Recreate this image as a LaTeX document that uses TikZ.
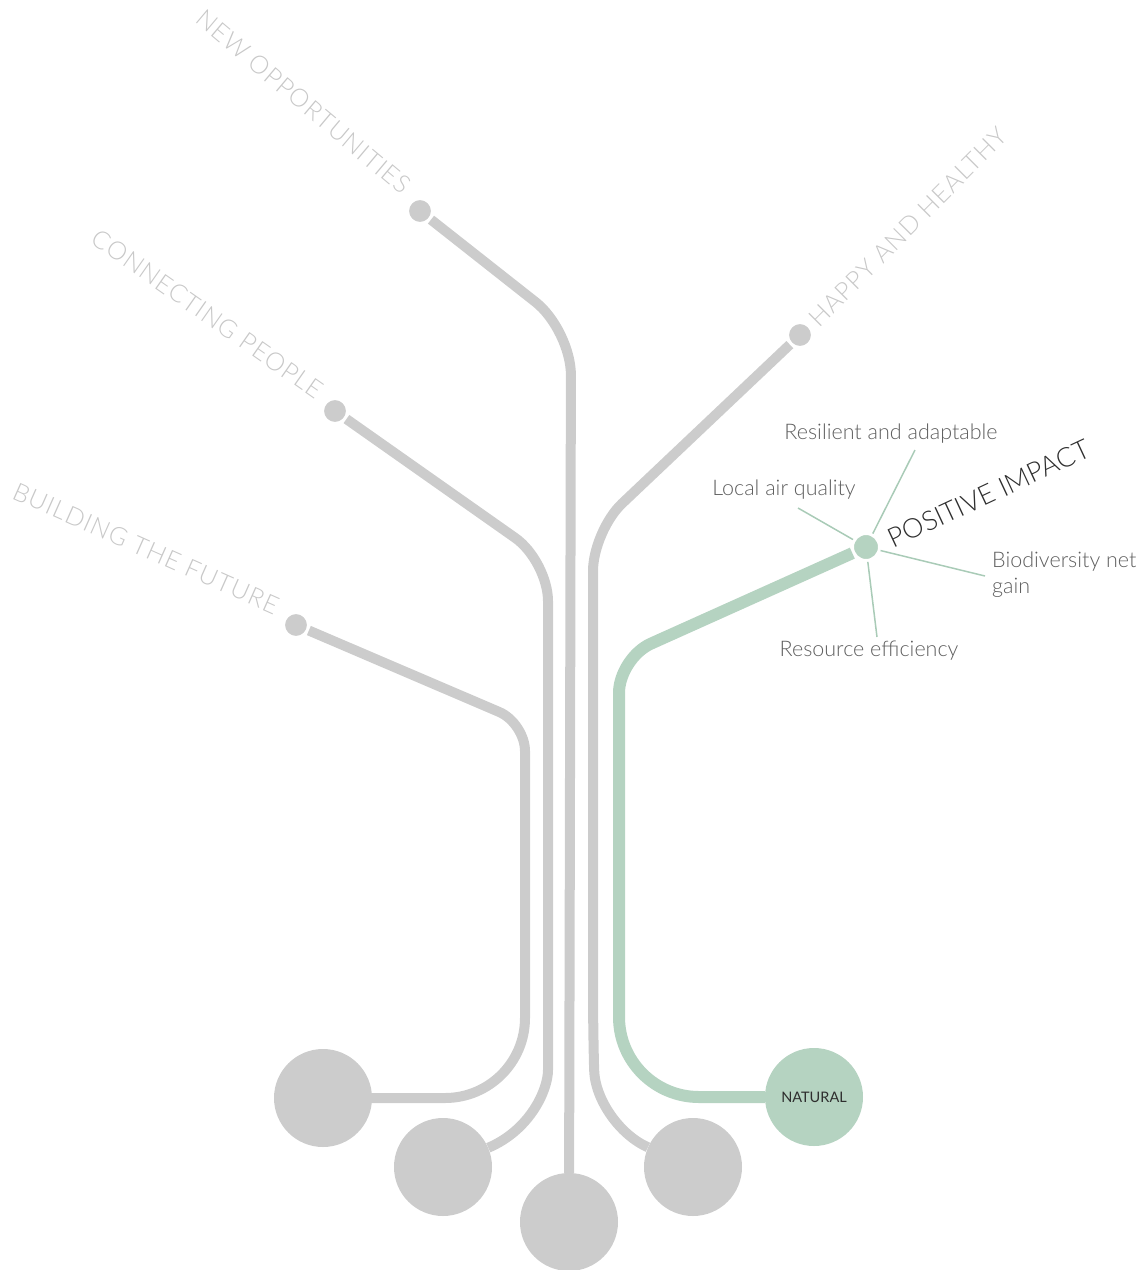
\documentclass[tikz,border=0pt]{standalone}
\usepackage{fontspec}
\setmainfont{Lato}
\newfontfamily\thinfont{Lato Light}
\newfontfamily\tagfont{Lato Light}[LetterSpace=4]
\definecolor{trunkgray}{HTML}{CCCCCC}
\definecolor{leafgreen}{HTML}{B5D3C1}
\definecolor{spokegreen}{HTML}{A9CBB7}
\definecolor{taggray}{HTML}{C8C8C8}
\definecolor{notegray}{HTML}{5E5E5E}
\definecolor{inkgray}{HTML}{2E2E2E}

\begin{document}
\begin{tikzpicture}[x=1pt, y=-1pt, line join=round,
	root/.style={circle, fill=trunkgray, minimum size=98pt, inner sep=0pt},
	tip/.style={circle, fill=trunkgray, draw=white, line width=3pt, minimum size=25pt, inner sep=0pt},
	trunk/.style={draw=trunkgray, line width=10pt},
	leaf/.style={draw=leafgreen, line width=12pt},
	spoke/.style={draw=spokegreen, line width=1.5pt},
	tag/.style={text=taggray, font=\tagfont\fontsize{25}{29}\selectfont, inner xsep=24pt, inner ysep=0pt},
	note/.style={text=notegray, font=\thinfont\fontsize{21.5}{26}\selectfont, inner sep=0pt}]
	\useasboundingbox (0,0) rectangle (1147,1270);
	\node[root] (rBF) at (323,1098) {};
	\node[root] (rCP) at (443,1167) {};
	\node[root] (rNO) at (569,1222) {};
	\node[root] (rHH) at (693,1167) {};
	\node[root, fill=leafgreen, text=inkgray, font=\fontsize{14.5}{16}\selectfont] (rNA) at (814,1097) {NATURAL};
	\node[tip] (tBF) at (296,625) {};
	\node[tip] (tCP) at (335,411) {};
	\node[tip] (tNO) at (420,211) {};
	\node[tip] (tHH) at (800,335) {};
	\node[tip, fill=leafgreen, minimum size=27pt] (tNA) at (866,547) {};
	\draw[trunk] (tBF) [rounded corners=28] -- (525,723) [rounded corners=80] -- (525,1098) -- (rBF);
	\draw[trunk, rounded corners=40] (tCP) -- (548,561) -- (548,1030) .. controls (548,1090) and (530,1130) .. (rCP);
	\draw[trunk, rounded corners=45] (tNO) -- (571,330) -- (rNO);
	\draw[trunk, rounded corners=40] (tHH) -- (593,531) -- (593,1030) .. controls (595,1100) and (620,1135) .. (rHH);
	\draw[leaf] (tNA) [rounded corners=35] -- (619,658) [rounded corners=80] -- (619,1097) -- (rNA);
	\node[tag, rotate=-40, anchor=base east] (gNO) at (tNO) {NEW OPPORTUNITIES};
	\node[tag, rotate=-35, anchor=base east] (gCP) at ([yshift=-3pt]tCP.center) {CONNECTING PEOPLE};
	\node[tag, rotate=-24, anchor=base east] (gBF) at (tBF) {BUILDING THE FUTURE};
	\node[tag, rotate=45, anchor=west, inner xsep=18pt] (gHH) at (tHH) {HAPPY AND HEALTHY};
	\node[tag, rotate=25, anchor=west, text=inkgray, font=\thinfont\fontsize{27}{31}\selectfont, inner xsep=26pt] (gPI) at ([yshift=-4pt]tNA.center) {POSITIVE IMPACT};
	\node[note] (lRA) at (891,434) {Resilient and adaptable};
	\node[note] (lLA) at (784,490) {Local air quality};
	\node[note, align=left, anchor=west] (lBG) at (992,575) {Biodiversity net\\gain};
	\node[note] (lRE) at (869,651) {Resource efficiency};
	\coordinate (eRA) at (915,450);
	\coordinate (eLA) at (798,508);
	\coordinate (eBG) at (985,576);
	\coordinate (eRE) at (877,637);
	\draw[spoke] (tNA) -- (eRA);
	\draw[spoke] (tNA) -- (eLA);
	\draw[spoke] (tNA) -- (eBG);
	\draw[spoke] (tNA) -- (eRE);
\end{tikzpicture}
\end{document}
